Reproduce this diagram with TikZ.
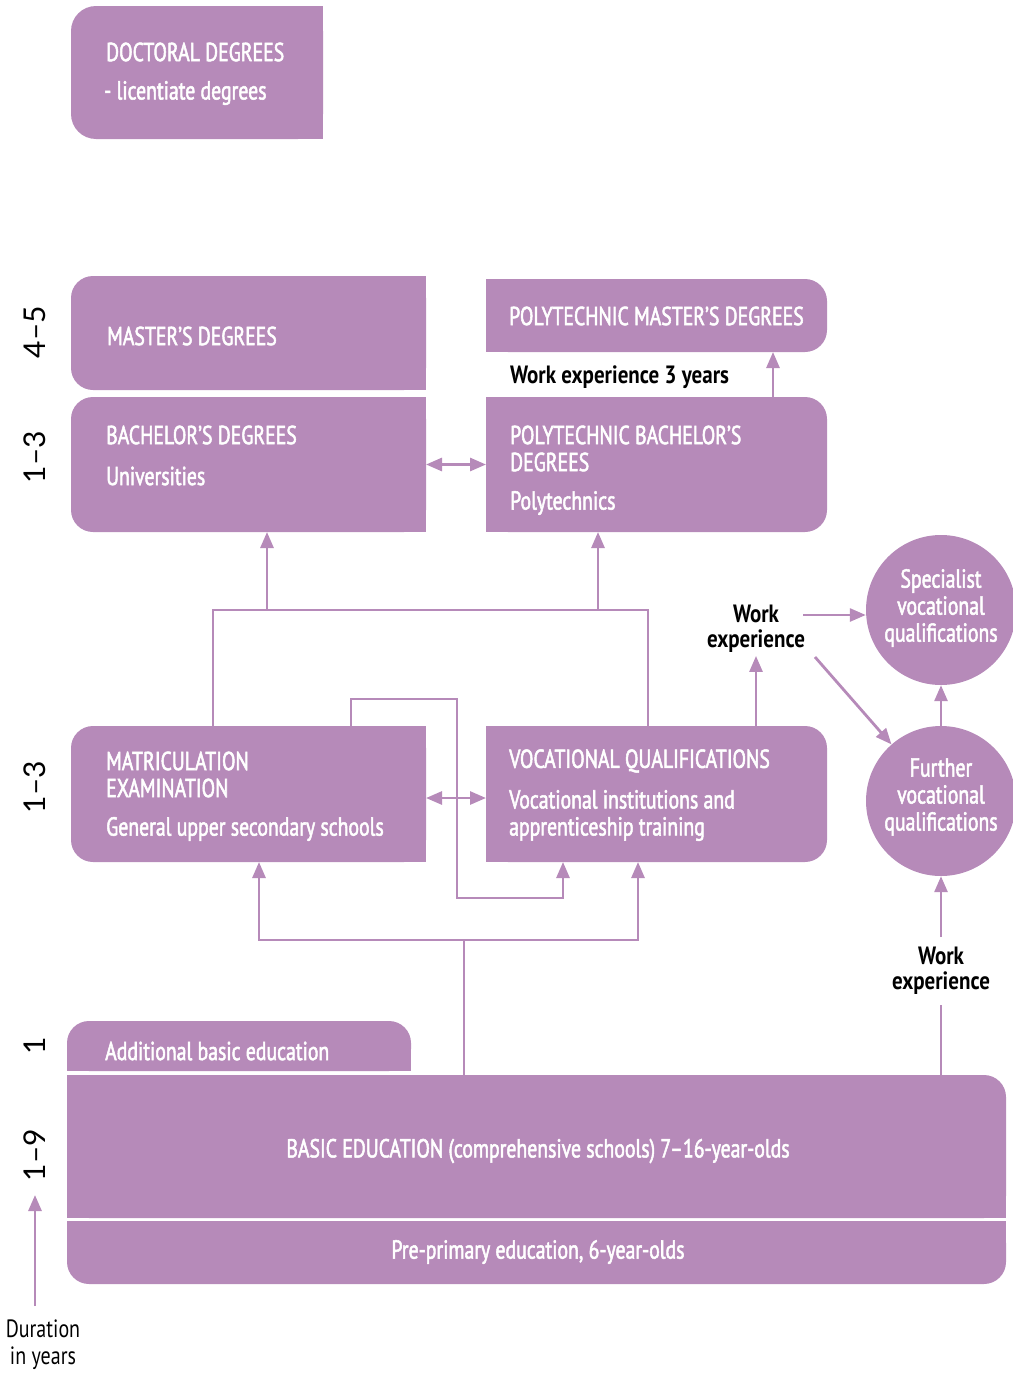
\documentclass[tikz,border=0pt]{standalone}
\usepackage{fontspec}
\setmainfont{PT Sans}
\newfontfamily\cond{PT Sans}[FakeStretch=0.76, FakeBold=2]
\newfontfamily\condb{PT Sans}[FakeStretch=0.84]
\newfontfamily\condl{PT Sans}[FakeStretch=0.8]
\newfontfamily\numf{Lato}
\usetikzlibrary{arrows.meta,calc}
\definecolor{purp}{RGB}{182,138,185}
\begin{document}
\begin{tikzpicture}[x=1pt,y=-1pt,
  area/.style={rectangle, inner sep=0pt, outer sep=0pt},
  wtxt/.style={text=white, font=\cond\fontsize{26}{27}\selectfont, anchor=west, align=left, inner sep=0pt},
  ctxt/.style={text=white, font=\cond\fontsize{26}{27}\selectfont, align=center, inner sep=0pt},
  btxt/.style={text=black, font=\condb\bfseries\fontsize{25}{25}\selectfont, align=center, inner sep=3pt},
  numtxt/.style={text=black, font=\numf\fontsize{30}{30}\selectfont, rotate=90, inner sep=0pt},
  conn/.style={draw=purp, line width=2.8pt},
  arr/.style={conn, -{Triangle[width=13pt,length=16pt]}},
  darr/.style={conn, {Triangle[width=13pt,length=16pt]}-{Triangle[width=13pt,length=16pt]}},
  rc/.style={purp, rounded corners=#1}, rc/.default=22pt
]
\useasboundingbox (0,0) rectangle (1012,1373);

% ---------- box frames (named nodes) ----------
\node[area, minimum width=252pt, minimum height=133pt] (doc) at (197,72.5) {};
\node[area, minimum width=355pt, minimum height=114pt] (mast) at (248.5,333) {};
\node[area, minimum width=355pt, minimum height=135pt] (bach) at (248.5,464.5) {};
\node[area, minimum width=341pt, minimum height=73pt] (pmast) at (656.5,315.5) {};
\node[area, minimum width=341pt, minimum height=135pt] (pbach) at (656.5,464.5) {};
\node[area, minimum width=355pt, minimum height=136pt] (matric) at (248.5,794) {};
\node[area, minimum width=341pt, minimum height=136pt] (voc) at (656.5,794) {};
\node[area, minimum width=344pt, minimum height=50pt] (add) at (239,1046) {};
\node[area, minimum width=939pt, minimum height=143pt] (basic) at (536.5,1146.5) {};
\node[area, minimum width=939pt, minimum height=63pt] (pre) at (536.5,1252.5) {};

% ---------- fills ----------
% left-rounded
\fill[rc=25pt] (doc.north west) rectangle (doc.south east);
\fill[purp] (doc.north) rectangle (doc.south east);
\fill[rc] (mast.north west) rectangle (mast.south east);
\fill[purp] (mast.north) rectangle (mast.south east);
\fill[rc] (bach.north west) rectangle (bach.south east);
\fill[purp] (bach.north) rectangle (bach.south east);
\fill[rc] (matric.north west) rectangle (matric.south east);
\fill[purp] (matric.north) rectangle (matric.south east);
% right-rounded
\fill[rc] (pmast.north west) rectangle (pmast.south east);
\fill[purp] (pmast.north west) rectangle (pmast.south);
\fill[rc] (pbach.north west) rectangle (pbach.south east);
\fill[purp] (pbach.north west) rectangle (pbach.south);
\fill[rc] (voc.north west) rectangle (voc.south east);
\fill[purp] (voc.north west) rectangle (voc.south);
% top-rounded
\fill[rc] (add.north west) rectangle (add.south east);
\fill[purp] (add.west) rectangle (add.south east);
% basic: top-right rounded
\fill[rc] (basic.north west) rectangle (basic.south east);
\fill[purp] (basic.north west) rectangle (basic.south);
\fill[purp] (basic.west) rectangle (basic.south east);
% pre: bottom rounded
\fill[rc] (pre.north west) rectangle (pre.south east);
\fill[purp] (pre.north west) rectangle (pre.east);

% circles
\node[circle, fill=purp, minimum size=150pt, inner sep=0pt] (spec) at (941,610) {};
\node[circle, fill=purp, minimum size=150pt, inner sep=0pt] (further) at (941,801) {};

% ---------- texts ----------
\node[wtxt] (tdoc1) at (106,52) {DOCTORAL DEGREES};
\node[wtxt] (tdoc2) at (104,93) {- licentiate degrees};
\node[wtxt] (tmast) at (107,336) {MASTER’S DEGREES};
\node[wtxt] (tbach1) at (106,435) {BACHELOR’S DEGREES};
\node[wtxt] (tbach2) at (106,476) {Universities};
\node[wtxt] (tpmast) at (509,316) {POLYTECHNIC MASTER’S DEGREES};
\node[wtxt] (tpbach1) at (510,448.5) {POLYTECHNIC BACHELOR’S\\DEGREES};
\node[wtxt] (tpbach2) at (510,503) {Polytechnics};
\node[wtxt] (tmat1) at (106,774.5) {MATRICULATION\\EXAMINATION};
\node[wtxt] (tmat2) at (106,829) {General upper secondary schools};
\node[wtxt] (tvoc1) at (509,761) {VOCATIONAL QUALIFICATIONS};
\node[wtxt] (tvoc2) at (509,815.5) {Vocational institutions and\\apprenticeship training};
\node[wtxt] (tadd) at (105,1051) {Additional basic education};
\node[ctxt] (tbasic) at (538,1151) {BASIC EDUCATION (comprehensive schools) 7–16-year-olds};
\node[ctxt] (tpre) at (538,1252) {Pre-primary education, 6-year-olds};
\node[ctxt] (tspec) at (941,608) {Specialist\\vocational\\qualifications};
\node[ctxt] (tfur) at (941,797) {Further\\vocational\\qualifications};

% black labels
\node[btxt, anchor=west, inner sep=0pt] (w3) at (510,377) {Work experience 3 years};
\node[btxt] (wexp) at (756,629) {Work\\experience};
\node[btxt, inner ysep=10pt] (wexp2) at (941,971) {Work\\experience};

% duration labels
\node[numtxt] (n1) at (35,332) {4–5};
\node[numtxt] (n2) at (35,457) {1–3};
\node[numtxt] (n3) at (35,787) {1–3};
\node[numtxt] (n4) at (35,1046) {1};
\node[numtxt] (n5) at (35,1155) {1–9};
\node[text=black, font=\condl\fontsize{25}{27}\selectfont, align=center, inner sep=0pt] (dur) at (43,1345) {Duration\\in years};

% ---------- connectors ----------
\coordinate (d0) at (35,1306);
\coordinate (d1) at (35,1195);
\draw[arr] (d0) -- (d1);

\draw[darr] (bach.east) -- (pbach.west);
\coordinate (mv) at (0,798);
\draw[darr] (matric.east |- mv) -- (voc.west |- mv);

\coordinate (pm) at (773,0);
\draw[arr] (pbach.north -| pm) -- (pmast.south -| pm);

% upper tree
\coordinate (u1) at (213,610);
\coordinate (u2) at (648,610);
\coordinate (ua) at (267,610);
\coordinate (ub) at (598,610);
\draw[conn] (u1 |- matric.north) -- (u1) -- (u2) -- (u2 |- voc.north);
\draw[arr] (ua) -- (ua |- bach.south);
\draw[arr] (ub) -- (ub |- pbach.south);

% loop
\coordinate (l1) at (351,699);
\coordinate (l2) at (457,699);
\coordinate (l3) at (457,898);
\coordinate (l4) at (563,898);
\draw[arr] (l1 |- matric.north) -- (l1) -- (l2) -- (l3) -- (l4) -- (l4 |- voc.south);

% lower tree
\coordinate (t0) at (464,940);
\coordinate (tl) at (259,940);
\coordinate (tr) at (638,940);
\draw[conn] (basic.north -| t0) -- (t0);
\draw[darr] (tl |- matric.south) -- (tl) -- (tr) -- (tr |- voc.south);

% work experience
\draw[arr] (voc.north -| wexp) -- (wexp.south);
\coordinate (wA) at (803,615);
\draw[arr] (wA) -- (spec.west |- wA);
\coordinate (wB) at (815,657);
\draw[arr] (wB) -- (further);
\draw[arr] (further) -- (spec);
\draw[conn] (basic.north -| wexp2) -- (wexp2.south);
\draw[arr] (wexp2.north) -- (further.south);
\end{tikzpicture}
\end{document}
